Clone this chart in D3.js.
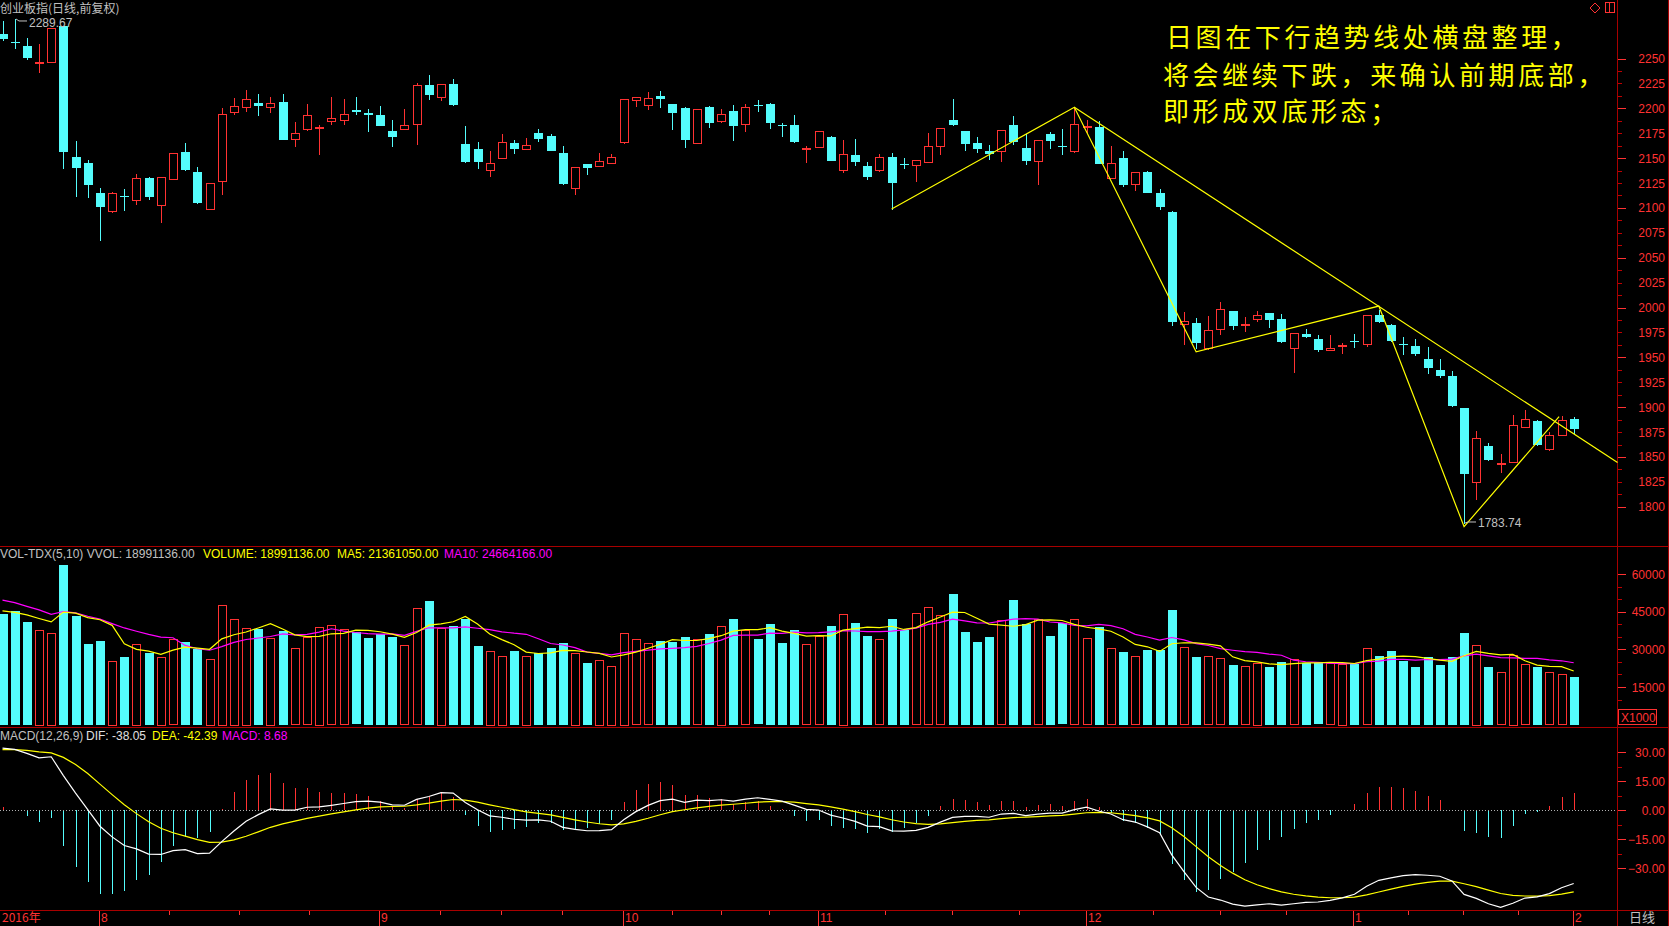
<!DOCTYPE html>
<html><head><meta charset="utf-8">
<script src="https://cdn.jsdelivr.net/npm/d3@7"></script>
<style>html,body{margin:0;padding:0;background:#000;overflow:hidden}</style>
</head><body>
<svg id="c" width="1669" height="926" style="display:block;background:#000"></svg>
<script>
// ---------------- DATA ----------------
const openP = [
2274.3,2266.6,2262.6,2246.0,2246.3,2283.0,2151.6,2145.6,2114.6,2096.9,
2111.5,2108.3,2129.6,2103.3,2129.3,2156.6,2135.6,2099.3,2127.3,2196.3,
2201.3,2205.6,2201.3,2206.6,2169.3,2178.9,2180.2,2187.3,2188.3,2198.6,
2195.3,2193.6,2177.6,2179.3,2184.3,2223.5,2211.8,2224.5,2164.5,2159.5,
2137.8,2149.8,2165.2,2158.8,2175.5,2172.5,2155.5,2119.8,2144.5,2141.8,
2144.8,2165.8,2207.8,2202.8,2212.5,2204.5,2200.5,2164.8,2201.5,2187.8,
2197.5,2184.8,2203.2,2204.5,2183.5,2183.5,2159.5,2160.8,2171.5,2137.8,
2153.4,2142.4,2138.4,2151.4,2144.6,2143.7,2146.7,2161.7,2188.4,2177.4,
2165.4,2157.4,2156.7,2183.4,2160.4,2146.7,2174.4,2161.8,2157.7,2182.2,
2181.4,2130.1,2150.1,2123.7,2136.4,2115.4,2096.4,1982.8,1984.2,1959.0,
1978.9,1996.2,1983.1,1988.8,1994.2,1988.8,1959.4,1973.1,1968.8,1957.4,
1962.2,1966.0,1963.8,1992.1,1982.1,1963.4,1961.1,1948.1,1937.1,1931.1,
1899.1,1824.8,1861.1,1844.2,1845.1,1880.4,1886.1,1858.4,1872.4,1888.1];
const highP = [
2288.0,2289.67,2270.9,2264.6,2280.3,2283.0,2167.6,2148.6,2119.6,2115.6,
2118.6,2133.6,2130.9,2131.3,2155.3,2165.6,2140.6,2125.3,2200.6,2210.6,
2218.6,2214.6,2211.6,2214.6,2186.6,2204.6,2183.3,2211.6,2209.6,2211.6,
2199.6,2202.6,2188.6,2199.6,2225.6,2233.5,2224.5,2229.5,2181.8,2166.5,
2157.5,2174.5,2168.5,2170.5,2179.2,2174.5,2162.5,2141.2,2144.5,2155.5,
2154.5,2209.2,2211.2,2216.5,2217.5,2204.5,2201.5,2199.2,2202.5,2199.5,
2203.5,2204.5,2208.5,2205.5,2185.5,2193.5,2162.5,2177.2,2172.5,2168.5,
2169.4,2146.4,2154.4,2155.4,2150.4,2148.4,2175.4,2180.1,2209.4,2177.4,
2171.4,2163.4,2178.1,2192.4,2174.1,2168.1,2176.4,2179.4,2201.1,2188.4,
2187.4,2162.4,2157.4,2136.1,2137.4,2119.4,2097.4,1995.1,1989.2,1991.2,
2005.2,1996.2,1990.2,1996.2,1994.2,1993.1,1974.8,1978.1,1972.1,1972.1,
1964.8,1973.1,1992.8,1998.0,1983.1,1970.1,1968.1,1960.1,1948.1,1936.1,
1899.1,1876.1,1864.1,1853.1,1892.1,1897.1,1887.1,1875.1,1891.1,1890.1];
const lowP = [
2269.0,2260.9,2249.6,2236.9,2246.3,2140.3,2111.9,2110.9,2067.9,2095.9,
2097.9,2103.9,2108.6,2085.9,2129.3,2137.9,2104.9,2099.3,2113.9,2194.3,
2196.9,2192.9,2195.9,2168.9,2161.9,2177.9,2153.9,2183.9,2184.6,2194.6,
2176.9,2182.9,2161.9,2179.3,2163.9,2209.5,2208.5,2203.5,2146.5,2140.5,
2132.5,2149.8,2155.5,2158.8,2167.5,2157.8,2124.5,2113.8,2133.8,2141.8,
2144.8,2164.8,2202.8,2199.5,2201.8,2179.5,2161.5,2164.8,2181.5,2185.8,
2168.5,2177.5,2197.5,2180.5,2172.5,2166.5,2146.5,2160.8,2147.8,2136.5,
2143.4,2128.7,2137.4,2099.4,2140.4,2126.7,2146.7,2153.7,2183.4,2158.4,
2156.4,2148.7,2147.4,2164.4,2144.4,2124.4,2160.4,2154.4,2156.4,2176.4,
2144.7,2130.1,2122.4,2117.7,2115.7,2098.7,1982.7,1963.6,1959.5,1958.8,
1973.8,1978.3,1976.2,1986.8,1980.4,1965.4,1935.4,1970.4,1956.8,1957.4,
1954.8,1960.4,1961.4,1985.4,1966.1,1953.1,1952.1,1934.1,1930.1,1901.1,
1783.74,1807.4,1847.4,1835.4,1845.1,1880.4,1861.8,1857.4,1872.4,1874.4];
const closeP = [
2269.6,2266.3,2250.9,2246.5,2280.3,2156.9,2140.9,2123.9,2100.9,2114.6,
2110.9,2130.3,2110.6,2131.3,2155.3,2138.6,2104.9,2125.3,2194.3,2202.3,
2209.6,2202.9,2205.3,2168.9,2175.3,2193.3,2181.2,2190.6,2194.3,2196.9,
2192.9,2182.9,2171.9,2183.3,2223.3,2213.5,2224.5,2203.5,2146.5,2146.5,
2145.2,2166.2,2159.5,2163.2,2169.5,2157.8,2124.5,2141.2,2140.8,2147.2,
2151.2,2209.2,2211.2,2210.2,2209.5,2195.5,2168.5,2199.2,2185.5,2194.5,
2182.5,2201.5,2202.5,2185.5,2183.0,2166.5,2160.0,2177.2,2147.8,2154.2,
2146.7,2131.7,2151.4,2125.7,2144.4,2148.4,2162.4,2180.1,2183.4,2164.7,
2159.4,2154.1,2178.1,2166.4,2147.4,2168.1,2167.7,2161.4,2184.4,2182.4,
2144.7,2145.1,2123.4,2136.1,2115.7,2101.7,1985.7,1986.1,1964.4,1977.0,
1999.0,1981.3,1983.4,1993.0,1987.5,1966.1,1974.8,1970.4,1958.1,1959.8,
1962.4,1965.8,1992.8,1985.4,1966.1,1963.1,1953.1,1939.1,1931.1,1901.1,
1832.4,1868.8,1847.4,1844.4,1882.1,1888.1,1862.4,1872.1,1887.1,1878.4];
// volume in axis units (x1000)
const volumes = [
44100,45300,41000,37700,36500,63600,43300,32100,33400,25400,
26900,32100,28600,26900,34000,32900,30200,26100,47700,42100,
38500,38200,34500,37300,30400,34800,38900,39600,38000,36800,
34500,36100,34900,31600,46300,49300,38500,39300,42100,31300,
29300,27300,29300,27300,28500,30500,32500,28500,24700,25700,
23400,36600,34000,32400,33400,32900,34900,34000,36100,39300,
42100,37600,34000,40100,32500,37700,32000,35200,39300,44100,
40500,35300,34000,42100,37700,44300,46700,43500,52000,36900,
32900,34900,41600,49700,40100,42000,35300,40300,42000,34400,
38900,30400,28900,27200,29700,29700,45700,30800,26900,27200,
26400,23800,23200,24600,23000,24900,26000,24600,24400,24400,
24200,24200,30400,27300,29300,25400,23000,26900,23800,26900,
36600,31700,23000,20800,27700,24000,23000,20800,20000,18991];
// estimated volumes of the 9 sessions before the first visible one (for MA warm-up)
const prevVolumes = [55000,56000,52000,54000,52500,48300,46000,44700,43400];
// MACD state before the first visible session
const macdInit = {ema12: 2240, ema26: 2208, dea: 31};

const monthLabels = ["2016年","8","9","10","11","12","1","2"];
const monthStartIdx = [0,8,31,51,67,89,111,129];

const priceTicks = d3.range(1800, 2251, 25);
const volTicks = [15000,30000,45000,60000];
const macdTicks = [-30,-15,0,15,30];

// hand-drawn trend lines (candle index, price)
const zigIdx = [73, 88, 98, 113, 120, 127.8];
const zigPrice = [2098.9, 2201.0, 1955.5, 2001.5, 1780.0, 1890.5];
const downIdx = [88, 132.6];
const downPrice = [2201.0, 1844.5];

const noteLines = ["日图在下行趋势线处横盘整理，","将会继续下跌，来确认前期底部，","即形成双底形态；"];
const titleText = "创业板指(日线,前复权)";
const volHeader = [["VOL-TDX(5,10) VVOL: 18991136.00","#c0c0c0",0],["VOLUME: 18991136.00","#ffff00",203],["MA5: 21361050.00","#ffff00",337],["MA10: 24664166.00","#ff00ff",444]];
const macdHeader = [["MACD(12,26,9)","#c0c0c0",0],["DIF: -38.05","#e0e0e0",86],["DEA: -42.39","#ffff00",152],["MACD: 8.68","#ff00ff",222]];

// ---------------- DRAW ----------------
const RED='#ff3232', CYAN='#54fcfc', FRAME='#a80000', GRAY='#c0c0c0', YEL='#ffff00', MAG='#ff00ff';
const NUMFONT='"Liberation Sans", Arial, sans-serif';
const CJK='"Noto Sans CJK SC", sans-serif';
const svg=d3.select('#c');
const n=closeP.length;
const x=d3.scaleLinear().domain([0,n-1]).range([2.5,1573.7]);
const yP=d3.scaleLinear().domain([1800,2250]).range([506.8,58.5]);
const yV=d3.scaleLinear().domain([0,60000]).range([724.7,574]);
const yM=d3.scaleLinear().domain([-30,30]).range([868,752]);
const idx=d3.range(n);
const up=i=>closeP[i]>=openP[i];
const px=i=>Math.round(x(i));

const g=svg.append('g').attr('shape-rendering','crispEdges');

// frames
const frames=[[0,546.5,1669,546.5],[0,727.5,1669,727.5],[0,910.5,1669,910.5],[1617.5,0,1617.5,926],[1668.5,0,1668.5,926]];
g.selectAll('.fr').data(frames).join('line').attr('x1',d=>d[0]).attr('y1',d=>d[1]).attr('x2',d=>d[2]).attr('y2',d=>d[3]).attr('stroke',FRAME);

// candles
g.selectAll('.wick').data(idx).join('line')
 .attr('x1',i=>px(i)+0.5).attr('x2',i=>px(i)+0.5)
 .attr('y1',i=>Math.round(yP(highP[i]))).attr('y2',i=>Math.round(yP(lowP[i]))+1)
 .attr('stroke',i=>up(i)?RED:CYAN);
g.selectAll('.body').data(idx).join('rect')
 .attr('x',i=>up(i)?px(i)-4+0.5:px(i)-4)
 .attr('y',i=>{const t=Math.round(yP(Math.max(openP[i],closeP[i])));return up(i)?t+0.5:t;})
 .attr('width',i=>up(i)?8:9)
 .attr('height',i=>Math.max(1,Math.round(Math.abs(yP(openP[i])-yP(closeP[i])))))
 .attr('fill',i=>up(i)?'#000':CYAN)
 .attr('stroke',i=>up(i)?RED:'none');

// trend lines
const tl=d3.line().x(d=>x(d[0])).y(d=>yP(d[1]));
svg.append('path').attr('d',tl(zigIdx.map((v,i)=>[v,zigPrice[i]]))).attr('fill','none').attr('stroke',YEL).attr('stroke-width',1.2);
svg.append('path').attr('d',tl(downIdx.map((v,i)=>[v,downPrice[i]]))).attr('fill','none').attr('stroke',YEL).attr('stroke-width',1.2);

// high/low markers
const hiI=highP.indexOf(d3.max(highP)), loI=lowP.indexOf(d3.min(lowP));
const mk=(i,val,dy)=>{
  const cx=px(i)+1, cy=yP(val);
  svg.append('path').attr('d',`M${cx},${cy} l3,${dy>0?2:-1} M${cx+3},${cy+(dy>0?2:-1)} L${cx+11},${cy+(dy>0?2:-1)}`).attr('stroke',GRAY).attr('fill','none');
  svg.append('text').attr('x',cx+13).attr('y',cy+(dy>0?8:4)).attr('fill',GRAY).attr('font-family',NUMFONT).attr('font-size',12).text(d3.format('.2f')(val));
};
mk(hiI,highP[hiI],1);
mk(loI,lowP[loI],-1);

// volume bars
g.selectAll('.vb').data(idx).join('rect')
 .attr('x',i=>up(i)?px(i)-4+0.5:px(i)-4)
 .attr('y',i=>{const t=Math.round(yV(volumes[i]));return up(i)?t+0.5:t;})
 .attr('width',i=>up(i)?8:9)
 .attr('height',i=>Math.round(yV(0)-yV(volumes[i])))
 .attr('fill',i=>up(i)?'#000':CYAN)
 .attr('stroke',i=>up(i)?RED:'none');

// volume MAs
const allV=prevVolumes.concat(volumes);
const ma=N=>volumes.map((v,i)=>d3.mean(allV.slice(i+prevVolumes.length-N+1,i+prevVolumes.length+1)));
const vl=d3.line().x((d,i)=>x(i)).y(d=>yV(d));
svg.append('path').attr('d',vl(ma(10))).attr('fill','none').attr('stroke',MAG).attr('stroke-width',1.2);
svg.append('path').attr('d',vl(ma(5))).attr('fill','none').attr('stroke',YEL).attr('stroke-width',1.2);

// MACD
let e12=macdInit.ema12,e26=macdInit.ema26,dea=macdInit.dea;
const dif=[],deaA=[],hist=[];
closeP.forEach(c=>{e12+= (c-e12)*2/13; e26+=(c-e26)*2/27; const d=e12-e26; dea+=(d-dea)*2/10; dif.push(d); deaA.push(dea); hist.push(2*(d-dea));});
svg.append('line').attr('x1',0).attr('x2',1617).attr('y1',yM(0)+0.5).attr('y2',yM(0)+0.5).attr('stroke','#b0b0b0').attr('stroke-dasharray','1,2');
g.selectAll('.mh').data(idx).join('line')
 .attr('x1',i=>px(i)+0.5).attr('x2',i=>px(i)+0.5)
 .attr('y1',yM(0)).attr('y2',i=>yM(hist[i]))
 .attr('stroke',i=>hist[i]>=0?RED:CYAN);
const ml=d3.line().x((d,i)=>x(i)).y(d=>yM(d));
svg.append('path').attr('d',ml(deaA)).attr('fill','none').attr('stroke',YEL).attr('stroke-width',1.2);
svg.append('path').attr('d',ml(dif)).attr('fill','none').attr('stroke','#ffffff').attr('stroke-width',1.2);

// right axes
function axis(scale,ticks,minorStep,lo,hi,fmt){
  const minors=d3.range(lo,hi+1e-9,minorStep);
  g.selectAll(null).data(minors).join('line').attr('x1',1618).attr('x2',1622).attr('y1',d=>Math.round(scale(d))+0.5).attr('y2',d=>Math.round(scale(d))+0.5).attr('stroke','#c00000');
  g.selectAll(null).data(ticks).join('line').attr('x1',1618).attr('x2',1626).attr('y1',d=>Math.round(scale(d))+0.5).attr('y2',d=>Math.round(scale(d))+0.5).attr('stroke',RED);
  svg.selectAll(null).data(ticks).join('text').attr('x',1665).attr('y',d=>scale(d)+4.5).attr('text-anchor','end')
   .attr('fill',RED).attr('font-family',NUMFONT).attr('font-size',12).text(fmt);
}
axis(yP,priceTicks.filter(v=>v%50===0),12.5,1800,2250,d=>d);
svg.selectAll(null).data(priceTicks.filter(v=>v%50!==0)).join('text').attr('x',1665).attr('y',d=>yP(d)+4.5).attr('text-anchor','end').attr('fill',RED).attr('font-family',NUMFONT).attr('font-size',12).text(d=>d);
axis(yV,volTicks,5000,10000,60000,d=>d);
axis(yM,macdTicks,7.5,-30,30,d=>d3.format('.2f')(d));
g.append('rect').attr('x',1618.5).attr('y',709.5).attr('width',38).attr('height',15).attr('fill','none').attr('stroke',RED);
svg.append('text').attr('x',1621).attr('y',722).attr('fill',RED).attr('font-family',NUMFONT).attr('font-size',12).text('X1000');

// date axis
const mX=monthStartIdx.map(i=>Math.round(x(i))-1);
g.selectAll('.mt').data(mX.slice(1)).join('line').attr('x1',d=>d+0.5).attr('x2',d=>d+0.5).attr('y1',911).attr('y2',926).attr('stroke',RED);
const qt=[];
for(let k=1;k<mX.length-1;k++){for(let q=1;q<4;q++)qt.push(mX[k]+(mX[k+1]-mX[k])*q/4);}
g.selectAll('.qt').data(qt).join('line').attr('x1',d=>Math.round(d)+0.5).attr('x2',d=>Math.round(d)+0.5).attr('y1',911).attr('y2',915).attr('stroke',RED);
svg.selectAll('.ml').data(monthLabels).join('text').attr('x',(d,i)=>i===0?2:mX[i]+2).attr('y',922)
 .attr('fill',RED).attr('font-family',(d,i)=>i===0?CJK:NUMFONT).attr('font-size',12).text(d=>d);
svg.append('text').attr('x',1629).attr('y',922).attr('fill',GRAY).attr('font-family',CJK).attr('font-size',13).text('日线');

// headers
svg.append('text').attr('x',0).attr('y',12.5).attr('fill',GRAY).attr('font-family',CJK).attr('font-size',12).text(titleText);
volHeader.forEach(([t,c,xx])=>svg.append('text').attr('x',xx).attr('y',558).attr('fill',c).attr('font-family',NUMFONT).attr('font-size',12).text(t));
macdHeader.forEach(([t,c,xx])=>svg.append('text').attr('x',xx).attr('y',740).attr('fill',c).attr('font-family',NUMFONT).attr('font-size',12).text(t));

// icons top-right
svg.append('path').attr('d','M1595,3 L1600,8 L1595,13 L1590,8 Z').attr('fill','none').attr('stroke',RED);
g.append('rect').attr('x',1605.5).attr('y',2.5).attr('width',9).attr('height',10).attr('fill','none').attr('stroke',RED);
g.append('line').attr('x1',1609.5).attr('x2',1609.5).attr('y1',3).attr('y2',12).attr('stroke',RED);

// annotation
const noteY=[47,85,121], noteX=[1166,1163,1163];
noteLines.forEach((t,i)=>svg.append('text').attr('x',noteX[i]).attr('y',noteY[i]).attr('fill',YEL)
 .attr('font-family',CJK).attr('font-size',26).attr('letter-spacing',3.6).text(t));
</script>
</body></html>
